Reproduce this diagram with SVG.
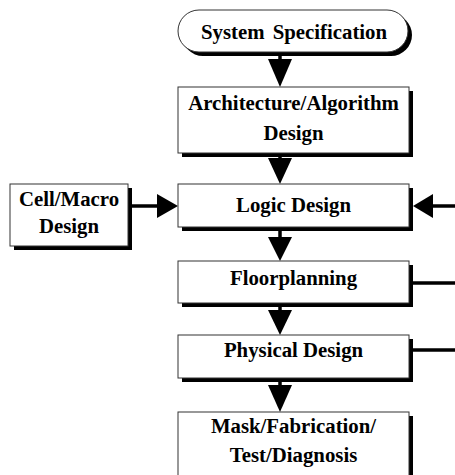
<svg xmlns="http://www.w3.org/2000/svg" width="455" height="475" viewBox="0 0 455 475">
  <style>
    .box { fill: #ffffff; stroke: #333333; stroke-width: 1; }
    .shadow { fill: #000000; }
    .label { font-family: "Liberation Serif", "Times New Roman", serif; font-weight: bold; font-size: 20.8px; fill: #000000; text-anchor: middle; }
    .wire { stroke: #000000; stroke-width: 3.5; fill: none; }
    .head { fill: #000000; }
  </style>
  <rect width="455" height="475" fill="#ffffff"/>

  <g id="connectors">
    <!-- vertical flow -->
    <line class="wire" x1="280" y1="52" x2="280" y2="60"/>
    <polygon class="head" points="268,59 292,59 280,87"/>
    <line class="wire" x1="280" y1="153" x2="280" y2="159"/>
    <polygon class="head" points="268,158 292,158 280,184"/>
    <line class="wire" x1="280" y1="227" x2="280" y2="238"/>
    <polygon class="head" points="268,237 292,237 280,261"/>
    <line class="wire" x1="280" y1="303" x2="280" y2="311"/>
    <polygon class="head" points="268,310 292,310 280,335"/>
    <line class="wire" x1="280" y1="378" x2="280" y2="386"/>
    <polygon class="head" points="268,385 292,385 280,412"/>
    <!-- side inputs into logic design -->
    <line class="wire" x1="132" y1="206" x2="158" y2="206"/>
    <polygon class="head" points="157,194 157,218 178,206"/>
    <line class="wire" x1="432" y1="206" x2="455" y2="206"/>
    <polygon class="head" points="433,194 433,218 413,206"/>
    <!-- feedback lines -->
    <line class="wire" x1="413" y1="283" x2="455" y2="283"/>
    <line class="wire" x1="413" y1="350" x2="455" y2="350"/>
  </g>

  <g id="system-specification">
    <rect class="shadow" x="182" y="14" width="230" height="42" rx="21"/>
    <rect class="box" x="178" y="10" width="230" height="42" rx="21"/>
    <text class="label" x="294" y="39" word-spacing="3">System Specification</text>
  </g>

  <g id="architecture-design">
    <rect class="shadow" x="182" y="91" width="231" height="66"/>
    <rect class="box" x="178" y="87" width="231" height="66"/>
    <text class="label" x="293.5" y="110">Architecture/Algorithm</text>
    <text class="label" x="293.5" y="140">Design</text>
  </g>

  <g id="logic-design">
    <rect class="shadow" x="182" y="188" width="231" height="43"/>
    <rect class="box" x="178" y="184" width="231" height="43"/>
    <text class="label" x="293.5" y="212">Logic Design</text>
  </g>

  <g id="cell-macro-design">
    <rect class="shadow" x="14" y="188" width="118" height="62"/>
    <rect class="box" x="10" y="184" width="118" height="62"/>
    <text class="label" x="69" y="206">Cell/Macro</text>
    <text class="label" x="69" y="233">Design</text>
  </g>

  <g id="floorplanning">
    <rect class="shadow" x="182" y="265" width="231" height="42"/>
    <rect class="box" x="178" y="261" width="231" height="42"/>
    <text class="label" x="293.5" y="285">Floorplanning</text>
  </g>

  <g id="physical-design">
    <rect class="shadow" x="182" y="339" width="231" height="43"/>
    <rect class="box" x="178" y="335" width="231" height="43"/>
    <text class="label" x="293.5" y="357">Physical Design</text>
  </g>

  <g id="mask-fabrication-test">
    <rect class="shadow" x="182" y="416" width="231" height="70"/>
    <rect class="box" x="178" y="412" width="231" height="70"/>
    <text class="label" x="293.5" y="433">Mask/Fabrication/</text>
    <text class="label" x="293.5" y="462">Test/Diagnosis</text>
  </g>
</svg>
